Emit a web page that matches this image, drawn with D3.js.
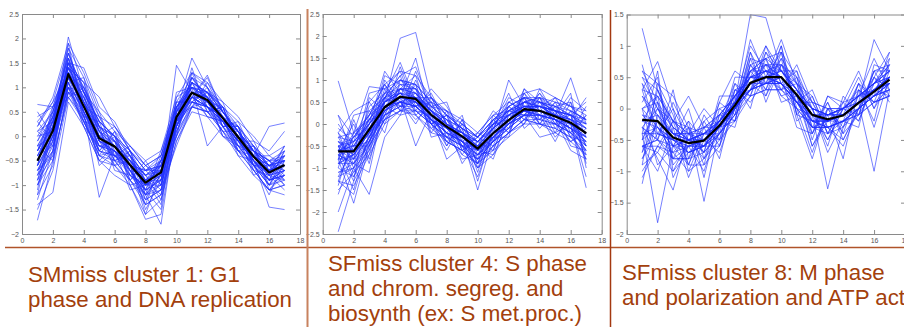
<!DOCTYPE html>
<html><head><meta charset="utf-8">
<script src="https://cdn.jsdelivr.net/npm/d3@7"></script>
<style>html,body{margin:0;padding:0;background:#fff;}svg{display:block;}</style>
</head><body>
<svg id="chart" width="904" height="327"></svg>
<script>
const timePoints = d3.range(1, 18);
const xTicks = [0,2,4,6,8,10,12,14,16,18];
const yTicks1 = [-2,-1.5,-1,-0.5,0,0.5,1,1.5,2,2.5];
const yTicks2 = [-2.5,-2,-1.5,-1,-0.5,0,0.5,1,1.5,2,2.5];
const yTicks3 = [-2,-1.5,-1,-0.5,0,0.5,1,1.5];
const titles = [
  ["SMmiss cluster 1: G1", "phase and DNA replication"],
  ["SFmiss cluster 4: S phase", "and chrom. segreg. and", "biosynth (ex: S met.proc.)"],
  ["SFmiss cluster 8: M phase", "and polarization and ATP activity"]
];
const mean1 = [-0.50,0.11,1.27,0.61,-0.04,-0.21,-0.59,-0.95,-0.74,0.39,0.89,0.74,0.37,-0.02,-0.42,-0.74,-0.59];
const mean2 = [-0.62,-0.62,-0.13,0.38,0.62,0.57,0.21,-0.06,-0.28,-0.56,-0.21,0.09,0.34,0.30,0.17,0.03,-0.21];
const mean3 = [-0.18,-0.20,-0.46,-0.55,-0.51,-0.27,0.05,0.41,0.50,0.50,0.22,-0.10,-0.17,-0.11,0.09,0.27,0.46];
const genes1 = [
[-0.3,0.4,1.5,0.9,0.2,-0.1,-0.5,-0.8,-0.6,0.5,1.0,0.9,0.5,0.1,-0.3,-0.6,-0.5],
[-0.8,-0.2,1.1,0.5,-0.2,-0.4,-0.7,-1.1,-0.9,0.2,0.8,0.6,0.3,-0.1,-0.5,-0.9,-0.7],
[-1.72,-0.5,0.9,0.3,-0.3,-0.5,-0.9,-1.3,-1.1,0.0,0.7,0.6,0.2,-0.2,-0.6,-1.0,-0.8],
[0.65,0.6,1.6,1.0,0.3,0.0,-0.3,-0.7,-0.4,0.6,1.1,0.9,0.5,0.2,-0.2,-0.5,-0.3],
[-0.5,0.2,2.03,0.9,0.1,-0.2,-0.6,-1.0,-0.7,0.4,0.9,0.7,0.4,0.0,-0.4,-0.7,-0.6],
[-1.0,-0.3,1.3,0.7,-0.1,-0.3,-0.7,-1.2,-1.8,0.3,1.2,0.8,0.3,-0.1,-0.5,-0.8,-0.9],
[0.0,0.5,1.4,1.1,0.8,0.2,-0.3,-0.6,-0.8,0.5,1.6,1.0,0.5,0.1,-0.3,-0.6,-0.4],
[-0.6,0.0,1.0,0.4,-0.3,-0.4,-0.8,-1.0,-0.9,1.45,0.9,0.7,0.4,0.0,-0.5,-0.7,-0.6],
[-1.4,-1.15,0.7,0.2,-0.5,-0.6,-1.0,-1.6,-1.3,-0.1,0.6,0.5,0.1,-0.4,-0.8,-1.1,-1.0],
[0.2,0.8,1.9,1.3,0.5,0.1,-0.2,-0.5,-0.3,0.8,1.3,1.1,0.7,0.4,-0.1,-0.3,0.1],
[-0.4,0.3,1.5,0.5,-1.25,-0.4,-0.5,-0.9,-0.6,0.4,0.8,0.6,0.3,-0.1,-0.4,0.2,0.27],
[-0.7,-0.1,1.2,0.6,0.0,-0.2,-0.6,-1.0,-0.8,0.3,0.9,0.8,0.4,0.0,-0.5,-1.45,-1.5],
[-0.2,0.3,1.4,0.8,0.1,-0.1,-0.4,-0.8,-0.7,0.5,1.0,-0.2,0.2,-0.1,-0.4,-0.7,-0.5],
[-0.9,-0.4,0.8,0.4,-0.2,-0.3,-0.8,-1.2,-1.0,0.1,0.6,0.7,0.3,-0.2,-0.6,-0.9,-0.8],
[-0.1,0.4,1.7,0.9,0.3,0.0,-0.4,-0.9,-0.5,0.6,1.1,0.9,0.6,0.2,-0.3,-0.5,-0.5],
[-0.5,0.1,1.3,0.5,-0.1,-0.3,-0.6,-0.7,-0.6,0.3,0.8,0.8,0.4,0.0,-0.5,-0.7,-0.6],
[-1.2,-0.6,1.0,0.3,-0.4,-0.5,-0.9,-1.4,-1.2,-0.1,0.5,0.4,0.0,-0.3,-0.7,-1.1,-1.2],
[0.3,0.7,1.8,1.2,0.4,0.2,-0.2,-0.6,-0.4,0.7,1.2,1.0,0.6,0.3,0.0,-0.4,-0.2],
[-0.6,0.0,1.2,0.7,0.0,-0.2,-0.6,-1.0,-0.8,0.4,0.9,0.7,0.3,-0.1,-0.4,-0.8,-0.6],
[-0.3,0.2,1.5,1.4,0.6,0.3,-0.3,-0.7,-0.7,0.3,0.8,0.6,0.4,0.0,-0.4,-0.6,-0.4],
[-0.8,-0.3,1.1,0.2,-0.5,-0.8,-1.0,-1.7,-1.6,0.2,0.9,0.7,0.3,-0.2,-0.6,-0.9,-0.7],
[-0.4,0.2,1.3,0.6,-0.1,-0.2,-0.4,-0.8,-0.5,0.6,1.0,0.9,0.5,0.1,-0.3,-0.8,-0.7],
[0.1,0.5,1.6,0.7,0.0,-0.1,-0.5,-0.9,-0.8,0.2,0.7,0.6,0.3,0.1,-0.3,-0.7,-0.5],
[-1.0,-0.5,0.9,0.5,-0.3,-0.4,-0.7,-1.1,-1.0,0.0,0.6,0.5,0.2,-0.3,-0.6,-1.0,-0.9],
[-0.5,0.3,1.4,0.8,0.2,-0.2,-0.5,-1.5,-0.9,0.5,0.9,0.7,0.4,0.0,-0.4,-0.6,-0.5],
[-0.7,0.0,1.0,0.6,-0.2,-0.3,-0.6,-0.9,-0.7,0.3,0.8,1.25,0.5,0.1,-0.3,-0.7,-0.6],
[-0.2,0.4,1.3,0.9,0.3,0.0,-0.3,-0.7,-0.5,0.5,1.1,0.8,0.4,0.1,-0.4,-0.6,-0.3],
[-1.5,-0.7,0.8,0.3,-0.4,-0.6,-0.9,-1.2,-1.1,-0.2,0.6,0.5,0.1,-0.3,-0.7,-1.1,-1.0],
[-0.3,0.2,1.2,0.6,-0.1,-0.2,-0.5,-1.0,-0.6,0.4,0.9,0.7,0.3,-0.1,-0.5,-0.8,-0.7],
[0.4,0.6,1.5,1.0,0.2,0.0,-0.4,-0.8,-0.6,0.6,1.0,0.8,0.5,0.1,-0.3,-0.5,-0.4],
[-0.6,-0.1,1.1,0.5,-0.1,-0.3,-0.7,-1.1,-0.9,0.2,0.7,0.6,0.3,-0.1,-0.5,-0.9,-0.8],
[-0.9,0.1,1.4,0.7,0.1,-0.2,-0.6,-0.9,-1.2,0.4,1.0,0.8,0.4,0.0,-0.4,-0.7,-0.6],
[-0.1,0.6,1.1,1.2,0.1,-0.5,-0.4,-1.1,-0.5,0.2,1.1,0.5,0.6,-0.2,-0.2,-0.9,-0.3],
[-0.7,-0.4,1.6,0.3,0.2,-0.6,-0.3,-1.2,-0.4,0.7,0.7,1.0,0.2,0.2,-0.6,-0.5,-0.9],
[0.3,-0.1,1.0,0.9,-0.4,0.1,-0.8,-0.7,-1.0,0.5,1.3,0.6,0.1,0.1,-0.5,-1.0,-0.4],
[-1.1,0.4,1.4,0.4,0.3,-0.5,-0.6,-1.3,-0.6,0.1,0.9,0.9,0.6,-0.3,-0.2,-0.6,-1.0],
[-0.4,-0.2,0.9,0.8,-0.3,0.0,-1.0,-0.9,-1.4,0.6,0.8,0.4,0.3,0.2,-0.7,-0.8,-0.2],
[0.1,0.3,1.8,0.5,0.0,-0.4,-0.2,-0.6,-0.9,0.2,1.2,0.8,0.0,-0.1,-0.3,-0.5,-0.7],
[-0.9,0.0,1.2,1.0,0.4,-0.1,-0.7,-1.4,-0.5,0.4,0.6,1.1,0.5,0.0,-0.6,-1.2,-0.5],
[-0.3,0.5,1.7,0.7,-0.6,-0.3,-0.5,-0.8,-1.1,0.8,1.0,0.7,0.2,0.3,-0.4,-0.4,-0.6],
[-1.3,-0.3,1.3,0.6,0.2,-0.7,-0.8,-1.0,-0.6,0.0,1.1,0.6,0.4,-0.4,-0.5,-0.9,-0.8],
[0.0,0.1,1.5,1.1,0.0,0.2,-0.3,-1.2,-0.8,0.5,0.7,0.9,0.7,-0.1,-0.1,-0.7,-0.2],
[-0.6,0.6,1.0,0.2,-0.2,-0.1,-0.9,-0.5,-1.0,0.3,1.4,0.5,0.3,0.0,-0.8,-0.6,-0.9],
[-0.2,-0.5,1.4,0.9,0.5,-0.4,-0.4,-1.1,-0.3,0.6,0.9,0.8,0.0,-0.2,-0.3,-1.0,-0.6],
[-0.8,0.2,1.9,0.4,-0.5,-0.2,-0.7,-0.8,-1.3,0.1,0.8,1.2,0.5,0.1,-0.6,-0.7,-0.4],
[0.5,0.0,1.2,0.7,0.2,0.0,-0.6,-1.6,-0.7,0.9,1.0,0.6,0.4,-0.3,-0.4,-0.8,-1.1],
[-0.5,0.4,0.8,1.0,-0.1,-0.6,-0.5,-0.9,-0.9,0.3,0.6,0.9,0.2,0.2,-0.2,-0.6,-0.5],
[-1.0,-0.1,1.6,0.6,0.4,-0.3,-1.1,-1.0,-0.5,0.4,1.2,0.7,0.6,-0.1,-0.7,-1.1,-0.7],
[-0.3,0.3,1.1,0.3,-0.3,0.1,-0.4,-1.3,-1.1,0.6,0.9,0.4,0.3,0.0,-0.3,-0.5,-0.8],
[0.2,0.7,1.3,0.8,0.1,-0.4,-0.6,-0.7,-0.6,0.2,1.0,0.8,0.5,0.1,-0.5,-0.9,-0.3],
[-0.7,-0.3,1.5,0.5,-0.2,-0.2,-0.8,-1.1,-1.5,0.5,0.8,0.6,0.1,-0.2,-0.4,-0.7,-1.0],
[-0.4,0.1,1.0,0.7,0.0,-0.5,-0.3,-0.9,-0.7,0.0,1.3,1.0,0.4,0.2,-0.6,-1.0,-0.5],
[-1.2,0.2,1.7,0.9,0.3,0.0,-0.7,-1.2,-0.8,0.7,0.7,0.5,0.6,-0.1,-0.3,-0.6,-0.7],
[0.1,-0.2,1.2,0.4,-0.4,-0.3,-0.5,-1.0,-1.0,0.3,1.1,0.9,0.2,-0.3,-0.5,-0.8,-0.4],
[-0.6,0.5,1.4,1.1,0.2,-0.1,-0.9,-0.6,-0.4,0.4,0.9,0.6,0.5,0.0,-0.2,-1.1,-0.8],
[-0.2,0.0,0.9,0.6,-0.1,-0.4,-0.6,-1.4,-1.2,0.2,0.8,0.8,0.3,0.1,-0.6,-0.6,-0.6]
];
const genes2 = [
[-0.4,-0.5,0.1,0.6,0.9,0.8,0.4,0.1,-0.1,-0.4,0.0,0.3,0.5,0.5,0.4,0.2,0.0],
[-0.9,-0.9,-0.4,0.2,0.4,0.3,0.0,-0.3,-0.5,-0.8,-0.4,-0.1,0.2,0.1,0.0,-0.2,-0.5],
[0.98,-0.2,0.2,0.5,0.8,0.6,0.3,0.0,-0.2,-0.5,-0.1,0.2,0.4,0.4,0.3,0.1,-0.1],
[-2.45,-1.3,-0.6,0.1,0.5,0.4,0.1,-0.2,-0.4,-0.7,-0.3,0.0,0.3,0.2,0.1,-0.1,-0.4],
[-0.6,-0.4,0.0,0.5,1.95,2.08,0.6,0.2,-0.1,-0.4,-0.1,0.2,0.4,0.3,0.2,0.0,-0.3],
[-0.8,-1.8,-0.5,0.3,0.6,0.5,0.2,-0.1,-0.3,-0.6,-0.2,0.1,0.3,0.3,0.1,-0.1,-0.6],
[-0.3,-0.2,0.85,0.8,1.0,0.9,0.5,0.2,0.0,-0.3,0.1,0.4,0.6,0.6,0.5,0.3,0.1],
[-1.2,-1.0,-1.6,-0.3,0.2,0.3,0.0,-0.4,-0.6,-0.9,-0.5,-0.2,0.1,0.0,-0.1,-0.3,-0.7],
[-0.5,-0.7,-0.2,0.4,0.7,0.5,0.2,-0.1,-0.3,-1.5,-0.3,0.1,0.3,0.3,0.2,0.0,-0.2],
[-0.7,-0.6,-0.1,0.3,0.6,-0.5,0.3,0.0,-0.3,-0.6,-0.2,1.0,0.4,0.3,0.2,0.1,-0.2],
[-0.6,-0.8,-0.3,0.4,0.5,0.6,0.2,-0.1,-0.2,-0.5,-0.3,0.0,0.2,0.3,0.2,1.05,0.0],
[-0.5,-0.4,0.0,0.5,0.8,0.7,0.3,0.0,-0.2,-0.4,0.0,0.3,0.5,0.4,0.3,0.0,-1.45],
[-1.0,-1.2,-0.5,0.1,0.3,0.2,-0.1,-0.4,-0.6,-0.9,-0.6,-0.3,0.0,0.0,-0.2,-0.4,-0.7],
[-0.2,0.3,0.5,0.9,1.2,1.1,0.6,0.3,0.1,-0.2,0.2,0.5,0.7,0.8,0.6,0.4,0.2],
[-0.8,-0.7,-0.2,0.4,0.6,0.6,0.2,-0.1,-0.4,-0.7,-0.3,0.1,0.3,0.3,0.2,0.0,-0.3],
[-0.4,-0.6,-0.1,0.5,0.7,0.4,0.1,-0.2,-0.3,-0.5,-0.1,0.2,0.5,0.4,0.2,0.1,-0.1],
[-1.5,-1.1,-0.4,0.2,0.5,0.5,0.1,-0.2,-0.4,-0.7,-0.4,-0.1,0.2,0.2,0.1,-0.1,-0.4],
[-0.6,-0.5,0.1,0.6,0.8,0.8,0.4,0.1,-0.1,-0.3,0.0,0.3,0.6,0.5,0.3,0.2,0.0],
[0.2,-0.3,-0.1,0.3,0.5,0.4,0.1,-0.2,-0.4,-0.6,-0.3,0.0,0.2,0.2,0.1,-0.1,-0.3],
[-0.7,-0.9,-0.3,0.2,0.4,0.4,0.6,0.2,-0.1,-0.3,0.1,0.4,0.6,0.5,0.4,0.2,-0.1],
[-0.9,-0.7,-0.2,0.5,0.7,0.7,0.3,-0.1,-0.4,-0.8,-0.4,0.0,0.3,0.4,0.2,0.0,-0.5],
[-0.3,-0.4,0.0,0.4,0.6,0.5,0.2,-0.8,-0.5,-0.6,-0.2,0.1,0.4,0.3,0.2,0.1,-0.2],
[-0.6,-0.6,-0.2,0.2,0.4,0.5,0.1,-0.1,-0.2,-0.4,-0.1,0.2,0.4,0.4,0.3,0.2,0.1],
[-1.3,-1.4,-0.7,0.0,0.3,0.3,0.0,-0.3,-0.5,-1.0,-0.7,-0.2,0.1,0.1,0.0,-0.2,-0.5],
[-0.5,-0.3,0.2,0.7,1.0,0.9,0.5,0.3,0.0,-0.3,0.1,0.3,0.5,0.6,0.4,0.3,0.1],
[-0.8,-0.8,-0.3,0.3,0.5,0.4,0.1,-0.2,-0.5,-0.7,-0.4,-0.1,0.2,0.2,0.0,-0.2,-0.8],
[-0.6,-0.5,0.0,0.6,0.7,0.6,0.3,0.1,-0.3,-0.5,-0.2,0.1,0.3,0.2,0.1,0.0,-0.2],
[-2.0,-1.0,-0.4,0.3,0.5,0.4,0.1,-0.1,-0.3,-0.6,-0.3,0.0,0.3,0.2,0.1,-0.1,-0.3],
[-0.4,-0.7,-0.2,0.4,0.8,0.7,0.3,0.0,-0.2,-0.4,0.0,0.2,0.4,0.4,0.3,0.1,0.0],
[-0.7,-0.3,0.1,0.5,0.6,0.6,0.2,0.0,-0.3,-0.6,-0.2,0.1,0.4,0.5,0.3,0.2,-0.1],
[-1.1,-0.9,-0.5,0.1,0.3,0.4,0.0,-0.3,-0.5,-0.8,-0.5,-0.2,0.1,0.0,-0.1,-0.3,-0.6],
[-0.5,-0.6,-0.1,0.5,0.7,0.6,0.3,0.0,-0.2,-0.5,-0.1,0.2,0.4,0.4,0.2,0.0,-0.2],
[-0.9,-0.3,0.2,0.9,0.4,0.9,0.0,0.2,-0.5,-0.3,-0.5,0.4,0.1,0.6,-0.1,0.3,-0.5],
[-0.2,-1.0,-0.6,0.6,1.1,0.2,0.5,-0.3,0.0,-0.9,0.1,-0.2,0.6,0.0,0.4,-0.3,0.2],
[-1.3,-0.4,0.5,0.0,0.8,0.8,-0.2,0.3,-0.6,-0.4,-0.6,0.3,0.2,0.7,0.1,0.2,-0.7],
[-0.5,-1.2,-0.3,0.8,0.3,1.2,0.3,-0.4,-0.1,-1.1,0.0,0.0,0.7,0.1,0.5,-0.2,0.4],
[-1.0,0.1,-0.8,0.2,1.3,0.4,0.7,0.0,-0.7,-0.2,-0.4,0.5,0.3,0.4,-0.2,0.5,-0.9],
[0.2,-0.8,0.4,0.7,0.5,0.1,0.4,-0.5,0.1,-0.8,0.2,-0.1,0.5,0.2,0.6,0.0,-0.4],
[-0.7,-1.5,-0.2,1.1,0.9,0.6,-0.1,0.1,-0.4,-0.5,-0.8,0.2,0.0,0.5,0.0,0.6,0.3],
[-1.6,-0.6,0.0,0.4,0.2,1.0,0.2,-0.2,-0.8,-0.7,-0.1,0.6,0.4,-0.1,0.3,-0.5,-0.6],
[-0.3,-0.9,-1.1,0.5,0.7,0.3,0.8,0.4,-0.2,-0.9,-0.3,-0.3,0.8,0.3,-0.3,0.1,0.6],
[-0.8,0.2,0.3,-0.2,1.0,0.7,0.0,-0.6,0.0,-0.3,0.3,0.0,0.2,0.6,0.2,0.7,-1.0],
[-1.2,-0.5,-0.4,0.7,1.4,0.5,0.3,0.1,-0.5,-1.2,-0.2,0.4,0.6,0.0,0.0,-0.4,-0.1],
[-0.6,-1.3,0.6,0.3,0.6,1.5,0.1,-0.3,-0.3,-0.6,-0.7,0.1,0.3,0.7,0.3,0.2,0.5],
[0.0,-0.5,-0.5,1.0,0.5,0.0,0.6,0.0,-0.9,-0.4,0.0,0.7,-0.1,0.2,0.1,-0.6,-0.8],
[-1.4,-0.2,0.1,0.2,0.9,0.9,-0.3,-0.2,0.2,-1.0,-0.5,-0.2,0.5,0.4,0.6,0.4,0.0],
[-0.5,-1.1,-0.7,0.6,0.4,0.6,0.4,0.5,-0.4,-0.2,0.2,0.3,0.2,-0.3,-0.2,0.0,-1.2],
[-0.9,-0.7,0.7,0.8,1.2,0.3,0.2,-0.4,-0.6,-0.8,-0.4,0.0,0.8,0.5,0.1,-0.2,0.2],
[-0.1,-0.4,-0.2,0.1,0.8,1.1,0.0,0.2,-0.1,-1.3,-0.1,0.5,0.3,0.1,0.4,0.5,-0.3],
[-1.1,-1.0,0.0,1.2,0.7,0.4,0.5,-0.1,-0.5,-0.5,0.1,-0.2,0.0,0.8,0.2,-0.1,-0.6],
[-0.6,0.0,-0.9,0.5,1.0,0.8,0.1,-0.5,0.1,-0.7,-0.6,0.2,0.6,0.2,-0.4,0.3,0.1],
[-0.4,-0.8,0.2,0.9,0.3,0.6,0.6,0.0,-0.3,-0.4,-0.3,0.4,0.1,0.4,0.3,-0.3,-0.4],
[-1.3,-1.6,-0.4,0.3,0.6,0.2,-0.2,-0.3,-0.7,-0.9,0.0,0.1,0.5,0.6,0.0,0.1,-0.8],
[-0.2,-0.6,0.3,0.6,1.1,1.3,0.4,0.3,-0.2,-0.6,-0.4,0.3,0.4,0.0,0.5,0.4,0.3],
[-0.8,-0.2,-0.3,0.4,0.5,0.7,0.3,-0.2,-0.4,-1.0,-0.2,-0.1,0.7,0.3,0.1,-0.4,-0.2],
[-0.7,-0.9,0.1,0.7,0.8,0.5,0.0,0.2,-0.6,-0.3,0.1,0.2,0.2,0.5,0.3,0.2,-0.5]
];
const genes3 = [
[1.28,0.3,-0.2,-0.4,-0.3,-0.1,0.2,0.6,0.7,0.6,0.3,0.0,-0.1,0.0,0.2,0.4,0.6],
[-0.4,-1.82,-0.6,-0.7,-0.6,-0.4,0.0,0.3,0.4,0.4,0.1,-0.2,-0.3,-0.2,0.0,0.2,0.4],
[0.5,0.3,-0.3,-0.5,-0.4,-0.2,0.2,0.5,0.6,0.7,0.3,0.0,-0.1,0.0,0.2,0.4,0.6],
[-0.6,-0.5,-0.8,-0.8,-0.7,-0.4,-0.1,0.3,0.4,0.4,0.1,-0.3,-0.3,-0.2,0.0,0.2,0.3],
[0.0,0.2,-0.2,-0.3,-1.48,-0.3,0.1,0.5,0.6,0.5,0.2,0.0,-0.1,0.0,0.1,0.3,0.5],
[-1.1,-0.6,-0.7,-0.6,-0.6,-0.3,0.1,0.4,0.5,0.5,0.2,-0.2,-0.2,-0.1,0.1,0.3,0.5],
[-0.3,0.0,-0.4,-0.5,-0.5,-0.2,0.1,1.5,1.45,0.6,0.3,0.0,-0.1,-0.1,0.1,0.3,0.4],
[0.3,0.75,0.0,-0.5,-0.4,-0.3,0.0,0.4,0.5,0.5,0.2,-0.1,-1.28,-0.3,0.0,0.2,0.5],
[-0.8,-0.4,-0.5,-0.7,-0.6,-0.3,0.0,0.3,0.5,0.4,0.2,-0.1,-0.2,-0.1,0.1,-1.0,0.3],
[-0.1,-0.2,-0.4,-0.4,-0.5,-0.2,0.1,0.6,0.8,0.9,0.5,0.1,0.0,0.0,0.2,0.4,0.7],
[-0.5,-0.3,-0.6,-0.6,-0.5,-0.3,0.0,0.4,0.4,0.5,0.1,-0.2,-0.2,-0.2,0.0,0.2,0.3],
[0.4,0.0,-0.3,-0.5,-0.4,-0.2,0.1,0.4,0.6,0.5,0.2,-0.1,-0.2,-0.1,0.1,1.1,0.6],
[-0.2,-0.3,-0.5,-0.6,-0.6,-0.3,0.0,0.5,0.5,0.6,0.3,-0.1,-0.2,-0.1,0.1,0.3,0.4],
[-0.6,-0.5,-0.7,-1.0,-0.8,-0.5,-0.2,0.2,0.3,0.3,0.0,-0.3,-0.4,-0.2,-0.1,0.1,0.2],
[0.2,-0.1,-0.4,-0.4,-0.4,-0.1,0.2,0.5,0.7,0.7,0.4,0.1,0.0,0.0,0.2,0.4,0.7],
[-0.4,-0.4,-0.5,-0.7,-0.5,-0.3,0.0,0.4,0.5,0.4,0.1,-0.2,-0.3,-0.2,0.0,0.2,0.4],
[0.6,0.4,0.2,-0.3,-0.4,-0.2,0.1,0.6,0.6,0.6,0.3,0.0,-0.1,-0.1,0.1,0.3,0.5],
[-0.7,-0.2,-0.4,-0.5,-0.7,-0.4,0.0,0.3,0.4,0.5,0.2,-0.1,-0.2,-0.1,0.0,0.2,0.3],
[-0.9,-0.7,-1.0,-0.7,-0.6,-0.4,-0.1,0.2,0.3,0.3,0.1,-0.3,-0.3,-0.2,-0.1,0.1,0.2],
[0.0,0.1,-0.3,-0.5,-0.4,-0.3,0.1,0.4,0.5,1.1,0.4,0.0,-0.1,0.0,0.2,0.3,0.5],
[-0.3,-0.5,-0.6,-0.5,-0.5,-0.2,0.1,0.5,0.4,0.5,0.2,-0.2,-0.2,-0.1,0.1,0.3,0.6],
[-0.5,0.0,-0.2,0.2,-0.3,-0.2,0.1,0.3,0.5,0.4,0.1,-0.1,-0.2,-0.1,0.1,0.3,0.4],
[0.0,-0.3,-0.5,-0.6,-0.5,-0.3,0.0,0.4,0.6,0.5,0.2,-0.1,-0.1,0.0,0.2,0.4,0.5],
[-0.2,-0.1,-0.4,-0.5,-0.6,-0.2,0.2,0.5,0.5,0.6,0.3,-0.1,-0.2,-0.1,0.1,0.3,0.5],
[-0.6,-0.6,-0.8,-0.6,-0.5,-0.3,0.0,0.3,0.4,0.4,0.0,-0.3,-0.3,-0.2,0.0,0.2,0.4],
[0.3,0.2,-0.2,-0.4,-0.3,-0.1,0.2,0.5,0.5,0.4,0.1,-0.1,-0.1,0.0,0.2,0.4,0.6],
[-0.1,-0.4,-0.5,-0.5,-0.6,-0.3,0.1,0.4,0.5,0.5,0.2,-0.6,-0.1,-0.1,0.1,0.3,0.4],
[-0.4,-0.3,-0.6,-0.5,-0.4,-0.2,0.0,0.6,0.8,0.6,0.2,-0.1,-0.2,-0.1,0.1,0.3,0.5],
[0.7,-0.2,-0.8,-0.3,-0.9,0.0,-0.2,0.8,0.2,0.9,-0.1,0.2,-0.4,0.1,-0.2,0.5,0.3],
[-0.9,0.4,-0.1,-0.9,-0.2,-0.6,0.3,0.2,0.8,0.3,0.5,-0.4,0.0,-0.3,0.4,0.1,0.7],
[-0.3,-0.8,-1.3,-0.4,-0.7,0.1,-0.1,0.7,0.4,1.0,0.0,-0.1,-0.5,0.0,-0.1,0.6,0.2],
[0.3,-0.5,0.3,-0.8,-0.4,-0.5,0.4,0.0,0.9,0.4,0.6,-0.3,0.1,-0.4,0.3,-0.2,0.8],
[-1.2,-0.1,-0.6,-0.2,-1.1,-0.1,0.0,0.9,0.1,0.7,0.1,0.3,-0.3,-0.6,0.0,0.4,0.5],
[0.1,0.5,-0.9,-0.6,-0.3,-0.8,0.2,0.3,0.7,0.2,0.3,-0.6,-0.2,0.0,0.5,0.0,0.4],
[-0.6,-1.0,-0.3,-1.1,-0.5,-0.2,-0.3,0.6,0.3,0.8,-0.2,0.0,-0.7,-0.2,-0.3,0.7,0.6],
[0.5,0.0,-0.5,0.0,-0.8,-0.4,0.5,0.5,1.0,0.6,0.4,-0.5,0.2,0.1,0.2,0.2,0.9],
[-0.4,0.6,-1.0,-0.5,-0.2,0.0,0.1,1.0,0.6,0.3,0.7,0.1,-0.3,-0.5,0.0,0.5,0.1],
[-1.0,-0.6,-0.2,-0.9,-0.9,-0.6,0.3,0.1,0.5,0.9,-0.1,-0.8,0.0,-0.1,0.4,-0.3,0.5],
[0.2,-0.3,-0.7,-0.4,0.0,-0.3,-0.2,0.7,0.8,0.1,0.2,0.0,-0.6,0.2,-0.1,0.6,0.7],
[-0.7,0.3,-0.4,-0.7,-0.6,0.1,0.6,0.4,0.2,0.7,0.5,-0.2,-0.1,-0.8,0.3,0.1,0.2],
[0.0,-0.9,-0.6,-0.2,-0.5,-0.7,0.0,0.8,0.7,0.5,-0.3,-0.4,0.2,0.0,-0.2,0.4,0.8],
[-0.5,0.1,-1.1,-0.6,-1.0,-0.2,0.4,0.2,1.0,0.4,0.1,0.1,-0.4,-0.3,0.2,0.8,0.3],
[0.4,-0.4,0.0,-1.0,-0.4,-0.4,-0.1,0.9,0.4,0.8,0.4,-0.3,-0.2,0.1,0.6,0.0,0.6],
[-0.8,-0.2,-0.5,-0.3,-0.7,0.2,0.2,0.5,0.6,0.2,0.0,-0.7,0.0,-0.4,-0.1,0.3,0.2],
[-0.2,0.2,-0.8,-0.8,-0.1,-0.5,0.1,0.3,0.9,0.6,0.6,0.0,-0.5,0.0,0.1,0.5,0.9],
[-0.6,-0.7,-0.2,-0.5,-0.8,-0.1,-0.2,0.7,0.3,1.0,-0.1,-0.2,-0.3,-0.2,0.4,0.2,0.4],
[0.6,0.1,-0.6,-0.9,-0.3,-0.3,0.3,0.4,0.7,0.5,0.2,-0.4,0.1,-0.5,0.0,0.6,0.6],
[-0.3,-0.5,0.1,-0.4,-0.6,-0.6,0.0,1.1,0.5,0.3,0.4,0.2,-0.4,0.0,0.3,0.1,0.3]
];

const panels = [
  {genes: genes1, mean: mean1, yDomain: [-2, 2.5], yTicks: yTicks1, x0: 22, x1: 300, top: 14, bottom: 234,
   title: titles[0], tx: 28, ty: 282},
  {genes: genes2, mean: mean2, yDomain: [-2.5, 2.5], yTicks: yTicks2, x0: 322.7, x1: 601.7, top: 14, bottom: 234,
   title: titles[1], tx: 328, ty: 270.5},
  {genes: genes3, mean: mean3, yDomain: [-2, 1.5], yTicks: yTicks3, x0: 626.7, x1: 905, top: 14.5, bottom: 234,
   title: titles[2], tx: 622, ty: 280}
];

const svg = d3.select("#chart");
const textColor = "#a3400c";
const fmt = d => d3.format("")(d).replace("-", "\u2212");

panels.forEach(p => {
  const x = d3.scaleLinear().domain([0, 18]).range([p.x0, p.x1]);
  const y = d3.scaleLinear().domain(p.yDomain).range([p.bottom, p.top]);
  const g = svg.append("g");
  const clipId = "clip" + p.x0.toFixed(0);
  svg.append("clipPath").attr("id", clipId).append("rect")
    .attr("x", p.x0).attr("y", p.top).attr("width", p.x1 - p.x0).attr("height", p.bottom - p.top);

  const line = d3.line().x((d, i) => x(timePoints[i])).y(d => y(d));
  const plot = g.append("g").attr("clip-path", `url(#${clipId})`);
  plot.selectAll("path.gene").data(p.genes).join("path")
    .attr("class", "gene").attr("d", line)
    .attr("fill", "none").attr("stroke", "#1f30ff").attr("stroke-width", 0.85).attr("stroke-opacity", 0.72);
  plot.append("path").datum(p.mean).attr("d", line)
    .attr("fill", "none").attr("stroke", "#000").attr("stroke-width", 2.2).attr("stroke-linejoin", "round");

  const styleAxis = sel => {
    sel.select(".domain").attr("stroke", "#8a8a8a").attr("stroke-width", 1);
    sel.selectAll(".tick line").attr("stroke", "#8a8a8a");
    sel.selectAll(".tick text").attr("fill", "#555").attr("font-size", 7).attr("font-family", "Liberation Sans, Arial, sans-serif");
  };
  g.append("g").attr("transform", `translate(0,${p.bottom})`)
    .call(d3.axisBottom(x).tickValues(xTicks).tickFormat(fmt).tickSizeInner(-4).tickSizeOuter(0).tickPadding(4))
    .call(styleAxis);
  g.append("g").attr("transform", `translate(0,${p.top})`)
    .call(d3.axisTop(x).tickValues(xTicks).tickFormat("").tickSizeInner(-4).tickSizeOuter(0))
    .call(styleAxis);
  g.append("g").attr("transform", `translate(${p.x0},0)`)
    .call(d3.axisLeft(y).tickValues(p.yTicks).tickFormat(fmt).tickSizeInner(-4).tickSizeOuter(0).tickPadding(3))
    .call(styleAxis);
  g.append("g").attr("transform", `translate(${p.x1},0)`)
    .call(d3.axisRight(y).tickValues(p.yTicks).tickFormat("").tickSizeInner(-4).tickSizeOuter(0))
    .call(styleAxis);

  const t = svg.append("text").attr("x", p.tx).attr("y", p.ty)
    .attr("fill", textColor).attr("font-size", 22.3).attr("font-family", "Liberation Sans, Arial, sans-serif");
  p.title.forEach((s, i) => t.append("tspan").attr("x", p.tx).attr("dy", i === 0 ? 0 : 25).text(s));
});

svg.append("line").attr("x1", 5).attr("x2", 904).attr("y1", 247.5).attr("y2", 247.5)
  .attr("stroke", "#b0532a").attr("stroke-width", 1.5);
svg.append("line").attr("x1", 307.5).attr("x2", 307.5).attr("y1", 9).attr("y2", 327)
  .attr("stroke", "#c8825f").attr("stroke-width", 2);
svg.append("line").attr("x1", 610.5).attr("x2", 610.5).attr("y1", 10).attr("y2", 327)
  .attr("stroke", "#a33810").attr("stroke-width", 1.5);
</script>
</body></html>
